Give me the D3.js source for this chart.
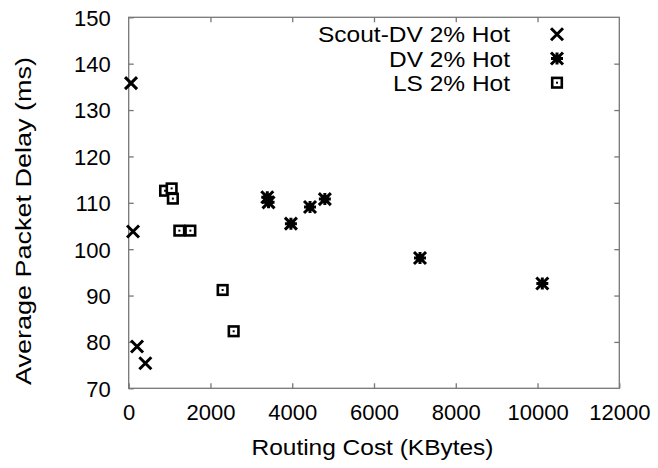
<!DOCTYPE html>
<html>
<head>
<meta charset="utf-8">
<script src="https://d3js.org/d3.v7.min.js"></script>
<style>
  body { margin: 0; background: #fff; }
  text { font-family: "Liberation Sans", Arial, Helvetica, sans-serif; fill: #000; }
</style>
</head>
<body>
<div class="chart"></div>
<script>
// Data
var scoutCost  = [57, 106, 204, 407];
var scoutDelay = [135.8, 103.8, 79.0, 75.4];

var dvCost  = [3390, 3420, 3968, 4435, 4798, 7125, 10117];
var dvDelay = [111.2, 110.1, 105.5, 109.1, 110.8, 98.1, 92.6];

var lsCost  = [890, 1050, 1080, 1239, 1508, 2298, 2567];
var lsDelay = [112.6, 113.1, 110.9, 104.0, 104.0, 91.2, 82.3];

var xTicks = [0, 2000, 4000, 6000, 8000, 10000, 12000];
var yTicks = [70, 80, 90, 100, 110, 120, 130, 140, 150];

var seriesNames = ["Scout-DV 2% Hot", "DV 2% Hot", "LS 2% Hot"];
var seriesShapes = ["cross", "star", "box"];

var width = 658, height = 468;
var margin = {top: 17.3, right: 38.7, bottom: 79.7, left: 128.7};
var w = width - margin.left - margin.right,
    h = height - margin.top - margin.bottom;

var x = d3.scaleLinear().domain([0, 12000]).range([0, w]);
var y = d3.scaleLinear().domain([70, 150]).range([h, 0]);

var svg = d3.select("div.chart")
    .append("svg")
    .attr("width", width)
    .attr("height", height);

var g = svg.append("g")
    .attr("transform", "translate(" + margin.left + "," + margin.top + ")");

// frame
g.append("rect")
    .attr("width", w).attr("height", h)
    .attr("fill", "none").attr("stroke", "#777").attr("stroke-width", 1.3);

// ticks on all four sides, pointing inward
var tickLen = 5;
function axisTicks(axis, transform) {
    var a = g.append("g").attr("transform", transform).call(axis);
    a.select(".domain").remove();
    a.selectAll("line").attr("stroke", "#777").attr("stroke-width", 1.3);
    a.selectAll("text")
        .style("font-size", "22px")
        .style("font-family", "'Liberation Sans', Arial, sans-serif");
    return a;
}

var xb = axisTicks(d3.axisBottom(x).tickValues(xTicks).tickSizeInner(-tickLen).tickSizeOuter(0).tickPadding(0)
    .tickFormat(d3.format("d")), "translate(0," + h + ")");
xb.selectAll("text").attr("y", 32).attr("dy", null);

axisTicks(d3.axisTop(x).tickValues(xTicks.slice(1, -1)).tickSizeInner(-tickLen).tickSizeOuter(0).tickFormat(""), "translate(0,0)");

var yl = axisTicks(d3.axisLeft(y).tickValues(yTicks).tickSizeInner(-tickLen).tickSizeOuter(0).tickPadding(18), "translate(0,0)");
yl.selectAll("text").attr("dy", "0.36em");

axisTicks(d3.axisRight(y).tickValues(yTicks.slice(1, -1)).tickSizeInner(-tickLen).tickSizeOuter(0).tickFormat(""), "translate(" + w + ",0)");

// axis titles (the original font runs a bit wider than Liberation Sans)
svg.append("text")
    .attr("x", 372.5)
    .attr("y", 455)
    .attr("text-anchor", "middle")
    .attr("textLength", 242)
    .attr("lengthAdjust", "spacingAndGlyphs")
    .style("font-size", "22px")
    .text("Routing Cost (KBytes)");

svg.append("text")
    .attr("transform", "translate(31,221) rotate(-90)")
    .attr("text-anchor", "middle")
    .attr("textLength", 328)
    .attr("lengthAdjust", "spacingAndGlyphs")
    .style("font-size", "22px")
    .text("Average Packet Delay (ms)");

// marker drawing
function drawMarker(sel, shape) {
    var s = 6;
    if (shape == "cross") {
        sel.append("path")
            .attr("d", "M" + -s + "," + -s + "L" + s + "," + s + "M" + -s + "," + s + "L" + s + "," + -s)
            .attr("stroke", "#000").attr("stroke-width", 3).attr("fill", "none");
    } else if (shape == "star") {
        sel.append("path")
            .attr("d", "M" + -s + "," + -s + "L" + s + "," + s + "M" + -s + "," + s + "L" + s + "," + -s +
                "M0," + -s + "L0," + s + "M" + -s + ",0L" + s + ",0")
            .attr("stroke", "#000").attr("stroke-width", 3).attr("fill", "none");
        sel.append("rect")
            .attr("x", -3.5).attr("y", -3.5).attr("width", 7).attr("height", 7).attr("fill", "#000");
    } else {
        sel.append("rect")
            .attr("x", -s + 1.2).attr("y", -s + 1.2)
            .attr("width", 2 * s - 2.4).attr("height", 2 * s - 2.4)
            .attr("stroke", "#000").attr("stroke-width", 2.6).attr("fill", "#fff");
        sel.append("rect")
            .attr("x", -1).attr("y", -1).attr("width", 2).attr("height", 2).attr("fill", "#000");
    }
}

function plotSeries(costs, delays, shape) {
    var data = costs.map(function (c, i) { return {c: c, d: delays[i]}; });
    g.append("g").selectAll("g")
        .data(data)
        .enter().append("g")
        .attr("transform", function (d) { return "translate(" + x(d.c) + "," + y(d.d) + ")"; })
        .each(function () { drawMarker(d3.select(this), shape); });
}

plotSeries(lsCost, lsDelay, "box");
plotSeries(dvCost, dvDelay, "star");
plotSeries(scoutCost, scoutDelay, "cross");

// legend
var legendWidths = [192, 121, 117];
var legend = svg.append("g");
seriesNames.forEach(function (name, i) {
    var yy = 42.3 + i * 24.2;
    legend.append("text")
        .attr("x", 510).attr("y", yy)
        .attr("text-anchor", "end")
        .attr("textLength", legendWidths[i])
        .attr("lengthAdjust", "spacingAndGlyphs")
        .style("font-size", "22px")
        .text(name);
    var m = legend.append("g").attr("transform", "translate(557," + (yy - 8) + ")");
    drawMarker(m, seriesShapes[i]);
});
</script>
</body>
</html>
